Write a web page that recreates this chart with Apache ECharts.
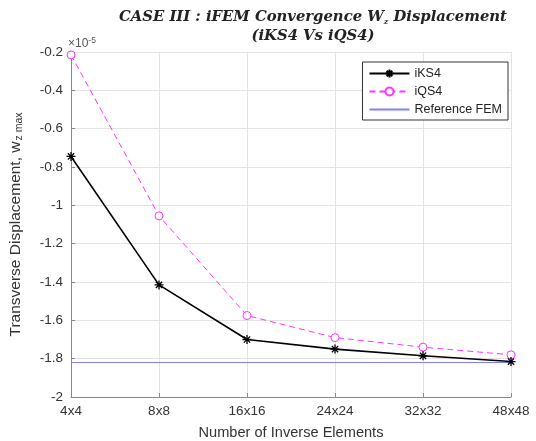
<!DOCTYPE html>
<html><head><meta charset="utf-8">
<script src="https://cdn.jsdelivr.net/npm/echarts@6/dist/echarts.min.js"></script>
<style>html,body{margin:0;padding:0;background:#fff}#c{width:536px;height:441px}</style>
</head><body><div id="c"></div>
<script>
const categories = ['4x4','8x8','16x16','24x24','32x32','48x48'];
const iKS4 = [-0.745, -1.415, -1.70, -1.75, -1.785, -1.815];
const iQS4 = [-0.215, -1.055, -1.575, -1.69, -1.74, -1.78];
const refFEM = [-1.82, -1.82, -1.82, -1.82, -1.82, -1.82];
const yTicks = {min: -2, max: -0.2, interval: 0.2};

const chart = echarts.init(document.getElementById('c'));
const asterisk = 'path://M0,-1L0,1M-1,0L1,0M-0.7,-0.7L0.7,0.7M-0.7,0.7L0.7,-0.7';
const font = 'Liberation Sans, Arial, sans-serif';
chart.setOption({
  animation: false,
  backgroundColor: '#fff',
  title: {
    text: '{t|CASE III : iFEM Convergence W}{s|z}{t| Displacement}\n{t|(iKS4 Vs iQS4)}',
    left: 308, top: 3, textAlign: 'center',
    textStyle: {
      rich: {
        t: {fontFamily: 'DejaVu Serif, serif', fontStyle: 'italic', fontWeight: 'bold', fontSize: 14.8, color: '#222', lineHeight: 19, align: 'center'},
        s: {fontFamily: 'DejaVu Serif, serif', fontStyle: 'italic', fontWeight: 'bold', fontSize: 8, color: '#222', padding: [9,0,0,0]}
      }
    }
  },
  legend: {
    orient: 'vertical', right: 28, top: 62,
    backgroundColor: '#fff', borderColor: '#333', borderWidth: 1,
    padding: [5, 6, 4, 6], itemGap: 5, itemWidth: 40, itemHeight: 10,
    textStyle: {fontFamily: font, fontSize: 12.5, color: '#222'},
    data: ['iKS4', 'iQS4', {name: 'Reference FEM', itemStyle: {opacity: 0}}]
  },
  grid: {left: 71, right: 25, top: 52, bottom: 44, outerBoundsMode: 'none', containLabel: false},
  xAxis: {
    type: 'category', data: categories, boundaryGap: false,
    name: 'Number of Inverse Elements', nameLocation: 'middle', nameGap: 28,
    nameTextStyle: {fontFamily: font, fontSize: 14.6, color: '#333'},
    axisLine: {lineStyle: {color: '#888', width: 1}},
    axisTick: {inside: true, length: 4, lineStyle: {color: '#888'}},
    axisLabel: {fontFamily: font, fontSize: 13.5, color: '#333', margin: 7},
    splitLine: {show: true, lineStyle: {color: '#e3e3e3', width: 1}}
  },
  yAxis: {
    type: 'value', min: yTicks.min, max: yTicks.max, interval: yTicks.interval,
    name: '{n|Transverse Displacement, w}{s|z max}', nameLocation: 'middle', nameGap: 46, nameRotate: 90,
    nameTextStyle: {rich: {
      n: {fontFamily: font, fontSize: 15.5, color: '#333'},
      s: {fontFamily: font, fontSize: 10.5, color: '#333', padding: [7,0,0,1]}
    }},
    axisLine: {show: true, lineStyle: {color: '#888', width: 1}},
    axisTick: {show: true, inside: true, length: 4, lineStyle: {color: '#888'}},
    axisLabel: {fontFamily: font, fontSize: 13.5, color: '#333', margin: 8,
      formatter: v => String(parseFloat(v.toFixed(2)))},
    splitLine: {show: true, lineStyle: {color: '#e3e3e3', width: 1}}
  },
  graphic: [{
    type: 'text', left: 68, top: 36,
    style: {text: '{a|×10}{b|-5}', rich: {
      a: {fontFamily: font, fontSize: 12, fill: '#555'},
      b: {fontFamily: font, fontSize: 8.5, fill: '#555', padding: [0,0,7,0]}
    }}
  }],
  series: [
    {name: 'iKS4', type: 'line', data: iKS4, z: 4,
     symbol: asterisk, symbolSize: 9, showAllSymbol: true,
     lineStyle: {color: '#000', width: 1.6},
     itemStyle: {color: '#000', borderColor: '#000', borderWidth: 1.3}},
    {name: 'iQS4', type: 'line', data: iQS4, z: 3,
     symbol: 'circle', symbolSize: 8,
     lineStyle: {color: '#ff33ff', width: 1, type: [6, 4]},
     itemStyle: {color: '#fff', borderColor: '#ff33ff', borderWidth: 1}},
    {name: 'Reference FEM', type: 'line', data: refFEM, z: 2,
     symbol: 'none', lineStyle: {color: '#8080ff', width: 1.2},
     itemStyle: {color: '#8080ff'}}
  ]
});
</script></body></html>
